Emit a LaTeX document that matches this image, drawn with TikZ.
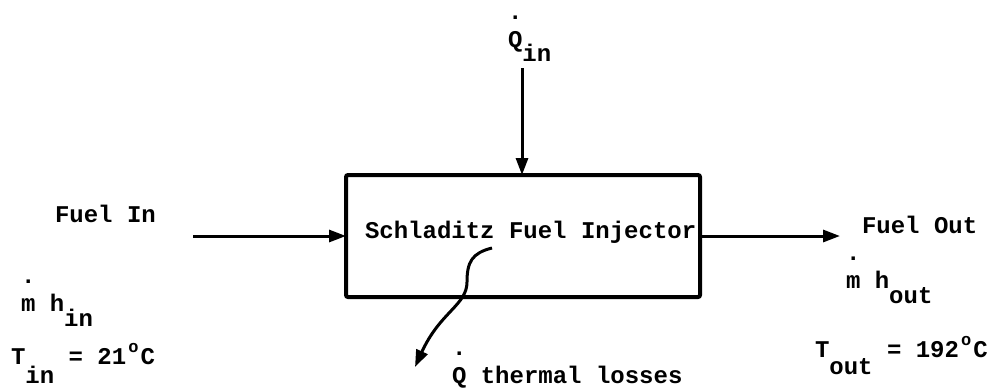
\documentclass[tikz,border=0pt]{standalone}
\usepackage{fontspec}
\setmonofont{Liberation Mono}
\usetikzlibrary{arrows.meta}
\newcommand\tw{\ttfamily\bfseries\fontsize{24}{28}\selectfont}
\newcommand\dotabove[1]{\rlap{\raisebox{28pt}{.}}#1}
\newcommand\lowered[2]{\raisebox{-#1}{#2}}
\newcommand\degsign{\makebox[0.6em]{\raisebox{0.5em}{\fontsize{17}{17}\selectfont o}}}
\begin{document}
\begin{tikzpicture}[x=1pt,y=-1pt,
  every node/.style={inner sep=0pt, outer sep=0pt, font=\tw},
  flow/.style={line width=3pt, -{Triangle[length=17pt,width=12pt]}},
  boxst/.style={draw, line width=4pt, rounded corners=2pt, minimum width=354pt, minimum height=122pt},
  lbl/.style={anchor=base west}]
\useasboundingbox (0,0) rectangle (1000,389);
% box
\node[boxst] (box) at (523,236) {};
\node[lbl] (title) at (365,238) {Schladitz Fuel Injector};
% heat in
\node[lbl] (qin) at (508,47) {\dotabove{Q}\lowered{14pt}{in}};
\coordinate (qtop) at (522,68);
\draw[flow] (qtop) -- (qtop |- box.north);
% fuel in
\node[lbl] (fuelin) at (55,222) {Fuel In};
\coordinate (fin) at (193,236);
\draw[flow] (fin) -- (box.west);
\node[lbl] (mhin) at (21,311) {\dotabove{m} h\lowered{15pt}{in}};
\node[lbl] (tin) at (11,364) {T\lowered{19pt}{in} = 21\degsign C};
% fuel out
\coordinate (fout) at (840,236);
\draw[flow] (box.east) -- (fout);
\node[lbl] (fuelout) at (862,233) {Fuel Out};
\node[lbl] (mhout) at (846,288) {\dotabove{m} h\lowered{15pt}{out}};
\node[lbl] (tout) at (815,357) {T\lowered{17pt}{out} = 192\degsign C};
% losses
\coordinate (qls) at (492,248);
\coordinate (qle) at (415,367);
\draw[flow] (qls) .. controls (472,253) and (467,262) .. (467,282)
  .. controls (467,305) and (440,312) .. (qle);
\node[lbl] (qloss) at (452,383) {\dotabove{Q} thermal losses};
\end{tikzpicture}
\end{document}
